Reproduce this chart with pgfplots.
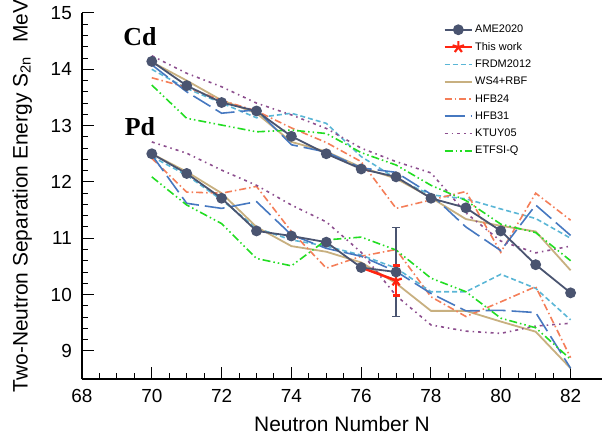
\documentclass[border=0pt]{standalone}
\usepackage{pgfplots}
\pgfplotsset{compat=1.18}
\usepackage{fontspec}
\setmainfont{Liberation Sans}
\newfontfamily\timesfont{Liberation Serif}
\definecolor{amec}{HTML}{4A5470}
\definecolor{redc}{HTML}{FF2410}
\definecolor{frdmc}{HTML}{5AB6D6}
\definecolor{wsc}{HTML}{C8B080}
\definecolor{hfbtfc}{HTML}{F47E58}
\definecolor{hfbtoc}{HTML}{4678C0}
\definecolor{ktuyc}{HTML}{8C4E8E}
\definecolor{etfc}{HTML}{22DD22}
\begin{document}
\begin{tikzpicture}
\pgfplotsset{
  ame/.style={color=amec, line width=1.8bp, mark=*, mark size=4.5bp, mark options={solid, fill=amec}},
  tw/.style={color=redc, line width=2.5bp, mark=star, mark size=6bp, mark options={solid, line width=2.2bp}},
  frdm/.style={color=frdmc, line width=1.6bp, dash pattern=on 5bp off 3bp},
  ws/.style={color=wsc, line width=1.8bp},
  hfbtf/.style={color=hfbtfc, line width=1.6bp, dash pattern=on 7bp off 3bp on 1.5bp off 3bp},
  hfbto/.style={color=hfbtoc, line width=1.6bp, dash pattern=on 20bp off 6bp},
  ktuy/.style={color=ktuyc, line width=1.6bp, dash pattern=on 3bp off 4bp on 1.5bp off 4bp},
  etf/.style={color=etfc, line width=1.6bp, dash pattern=on 8bp off 3bp on 1.5bp off 3bp on 1.5bp off 3bp},
}
\begin{axis}[
  at={(0,0)}, anchor=south west,
  scale only axis, width=520bp, height=366bp,
  xmin=68, xmax=82.9, ymin=8.5, ymax=15,
  axis lines=left,
  axis line style={-},
  x axis line style={line width=2bp},
  y axis line style={line width=1.5bp},
  xtick={68,70,...,82}, ytick={9,10,...,15},
  minor x tick num=3, minor y tick num=4,
  tick align=inside,
  major tick length=12bp, minor tick length=6bp,
  tick style={black, line width=1bp},
  /pgf/number format/assume math mode=true,
  tick label style={font=\fontsize{19}{19}\selectfont},
  xticklabel style={inner sep=0pt, yshift=-10bp},
  yticklabel style={inner sep=0pt, xshift=-10bp},
  xlabel={Neutron Number N},
  ylabel={Two-Neutron Separation Energy S\textsubscript{2n}\hspace{14bp}MeV},
  xlabel style={at={(axis description cs:0.5,-0.124)}, anchor=center, font=\fontsize{21}{21}\selectfont},
  ylabel style={at={(axis description cs:-0.115,0.5)}, anchor=center, font=\fontsize{21}{21}\selectfont},
  legend style={draw=none, fill=none, at={(axis description cs:0.6948,0.9727)}, anchor=north west,
    inner sep=0pt, font=\fontsize{11}{13}\selectfont, nodes={inner ysep=2bp}, row sep=4.1bp},
  legend cell align=left,
  legend image code/.code={\draw[mark repeat=2,mark phase=2,#1] plot coordinates {(0cm,0cm) (0.48cm,0cm) (0.96cm,0cm)};},
]
\addlegendimage{ame}\addlegendentry{AME2020}
\addlegendimage{tw}\addlegendentry{This work}
\addlegendimage{frdm}\addlegendentry{FRDM2012}
\addlegendimage{ws}\addlegendentry{WS4+RBF}
\addlegendimage{hfbtf}\addlegendentry{HFB24}
\addlegendimage{hfbto}\addlegendentry{HFB31}
\addlegendimage{ktuy}\addlegendentry{KTUY05}
\addlegendimage{etf}\addlegendentry{ETFSI-Q}

% ---- Cd models ----
\addplot[frdm, forget plot] coordinates {(70,14.00)(71,13.66)(72,13.40)(73,13.14)(74,13.22)(75,13.04)(76,12.45)(77,12.06)(78,11.77)(79,11.70)(80,11.52)(81,11.35)(82,11.00)};
\addplot[ws, forget plot] coordinates {(70,14.13)(71,13.80)(72,13.45)(73,13.22)(74,12.71)(75,12.54)(76,12.26)(77,12.06)(78,11.72)(79,11.34)(80,11.22)(81,11.12)(82,10.43)};
\addplot[hfbtf, forget plot] coordinates {(70,13.85)(71,13.68)(72,13.45)(73,13.26)(74,12.96)(75,12.70)(76,12.36)(77,11.53)(78,11.68)(79,11.83)(80,10.75)(81,11.80)(82,11.32)};
\addplot[hfbto, forget plot] coordinates {(70,14.08)(71,13.60)(72,13.22)(73,13.28)(74,12.66)(75,12.53)(76,12.25)(77,12.17)(78,11.78)(79,11.20)(80,10.78)(81,11.59)(82,11.05)};
\addplot[ktuy, forget plot] coordinates {(70,14.24)(71,13.93)(72,13.69)(73,13.40)(74,13.19)(75,12.95)(76,12.60)(77,12.36)(78,12.16)(79,11.45)(80,10.95)(81,10.74)(82,10.86)};
\addplot[etf, forget plot] coordinates {(70,13.72)(71,13.13)(72,13.01)(73,12.89)(74,12.92)(75,12.86)(76,12.52)(77,12.30)(78,11.94)(79,11.67)(80,11.25)(81,11.10)(82,10.60)};
% ---- Pd models ----
\addplot[frdm, forget plot] coordinates {(70,12.45)(71,12.12)(72,11.68)(73,11.18)(74,10.97)(75,10.86)(76,10.70)(77,10.47)(78,10.05)(79,10.05)(80,10.36)(81,10.11)(82,9.55)};
\addplot[ws, forget plot] coordinates {(70,12.50)(71,12.18)(72,11.80)(73,11.20)(74,10.86)(75,10.76)(76,10.57)(77,10.20)(78,9.71)(79,9.71)(80,9.52)(81,9.34)(82,8.69)};
\addplot[hfbtf, forget plot] coordinates {(70,12.42)(71,11.82)(72,11.80)(73,11.92)(74,11.12)(75,10.47)(76,10.68)(77,10.80)(78,9.96)(79,9.61)(80,9.87)(81,10.14)(82,8.88)};
\addplot[hfbto, forget plot] coordinates {(70,12.48)(71,11.62)(72,11.53)(73,11.65)(74,11.06)(75,10.82)(76,10.68)(77,10.41)(78,10.02)(79,9.71)(80,9.72)(81,9.68)(82,8.69)};
\addplot[ktuy, forget plot] coordinates {(70,12.71)(71,12.51)(72,12.21)(73,11.94)(74,11.59)(75,11.29)(76,10.75)(77,9.98)(78,9.46)(79,9.35)(80,9.31)(81,9.44)(82,9.49)};
\addplot[etf, forget plot] coordinates {(70,12.09)(71,11.59)(72,11.26)(73,10.64)(74,10.51)(75,10.97)(76,11.02)(77,10.79)(78,10.29)(79,10.05)(80,9.58)(81,9.41)(82,8.85)};

% ---- AME2020 error bar at N=77 (Pd) ----
\addplot[color=amec, only marks, mark=none, forget plot,
  error bars/.cd, y dir=both, y explicit,
  error bar style={color=amec, line width=1.5bp, solid},
  error mark options={rotate=90, color=amec, mark size=4bp, line width=1.5bp}]
  coordinates {(77,10.40) +- (0,0.79)};
% ---- This work ----
\addplot[tw, mark indices={2}, forget plot,
  error bars/.cd, y dir=both, y explicit,
  error bar style={color=redc, line width=2.5bp, solid},
  error mark options={rotate=90, color=redc, mark size=3.5bp, line width=2.5bp}]
  coordinates {(76,10.48) +- (0,0) (77,10.25) +- (0,0.27)};
% ---- AME2020 ----
\addplot[ame, forget plot] coordinates {(70,14.14)(71,13.71)(72,13.41)(73,13.26)(74,12.81)(75,12.50)(76,12.23)(77,12.09)(78,11.71)(79,11.54)(80,11.13)(81,10.53)(82,10.03)};
\addplot[ame, forget plot] coordinates {(70,12.50)(71,12.15)(72,11.71)(73,11.13)(74,11.04)(75,10.93)(76,10.48)(77,10.40)};

\node[font=\timesfont\bfseries\fontsize{26}{28}\selectfont, anchor=base] at (axis cs:69.66,14.414) {Cd};
\node[font=\timesfont\bfseries\fontsize{26}{28}\selectfont, anchor=base] at (axis cs:69.66,12.833) {Pd};
\end{axis}
\pgfresetboundingbox
\path (-82bp,-61bp) rectangle (520bp,379bp);
\end{tikzpicture}
\end{document}
